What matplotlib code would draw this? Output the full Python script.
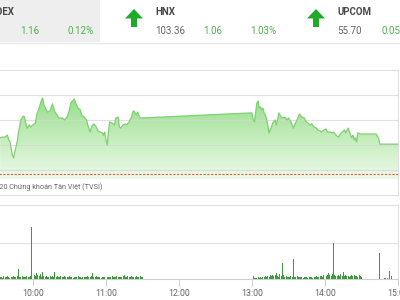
import numpy as np
import matplotlib
matplotlib.use("Agg")
import matplotlib.pyplot as plt
from matplotlib.patches import Rectangle, Polygon
from matplotlib.colors import LinearSegmentedColormap
from matplotlib.lines import Line2D

plt.rcParams['font.family'] = ['Roboto', 'DejaVu Sans']

# ---------------- data ----------------
ref_price = 102.30

price_times = [
    "09:33", "09:35", "09:37", "09:39", "09:40", "09:41", "09:43", "09:44", "09:45", "09:47",
    "09:48", "09:50", "09:52", "09:53", "09:55", "09:57", "09:58", "10:00", "10:02", "10:03",
    "10:05", "10:07", "10:08", "10:09", "10:11", "10:12", "10:14", "10:16", "10:18", "10:20",
    "10:21", "10:24", "10:26", "10:28", "10:30", "10:31", "10:34", "10:35", "10:37", "10:39",
    "10:40", "10:42", "10:44", "10:45", "10:47", "10:48", "10:50", "10:52", "10:53", "10:55",
    "10:57", "10:58", "10:59", "11:00", "11:01", "11:02", "11:03", "11:05", "11:07", "11:08",
    "11:10", "11:11", "11:12", "11:14", "11:16", "11:17", "11:19", "11:21", "11:22", "11:23",
    "11:25", "11:26", "11:28", "11:30",
    "13:00", "13:01", "13:02", "13:03", "13:04", "13:05", "13:06", "13:07", "13:08", "13:09",
    "13:10", "13:11", "13:12", "13:13", "13:14", "13:16", "13:17", "13:19", "13:20", "13:21",
    "13:22", "13:24", "13:25", "13:27", "13:29", "13:30", "13:32", "13:34", "13:35", "13:37",
    "13:39", "13:41", "13:43", "13:44", "13:46", "13:48", "13:49", "13:51", "13:53", "13:54",
    "13:56", "13:57", "13:59", "14:01", "14:02", "14:04", "14:06", "14:07", "14:09", "14:11",
    "14:12", "14:14", "14:16", "14:17", "14:19", "14:21", "14:22", "14:23", "14:24", "14:25",
    "14:26", "14:27", "14:29", "14:42", "14:44", "14:45", "15:00",
]
price_values = [
    103.58, 103.61, 103.61, 103.68, 103.51, 103.47, 102.97, 102.87, 103.08, 103.44,
    103.76, 104.22, 104.36, 104.32, 103.93, 104.04, 103.97, 104.04, 104.11, 104.39,
    104.64, 104.93, 105.00, 104.75, 104.57, 104.50, 104.54, 104.79, 104.50, 104.39,
    104.29, 104.29, 104.22, 104.32, 104.57, 104.82, 104.96, 104.82, 104.64, 104.57,
    104.39, 104.32, 104.22, 104.04, 103.79, 103.97, 104.08, 103.97, 103.86, 103.79,
    103.76, 103.68, 103.79, 103.51, 103.33, 103.79, 104.15, 104.11, 104.04, 104.29,
    104.32, 103.97, 103.93, 104.04, 104.08, 104.04, 104.15, 104.32, 104.50, 104.54,
    104.39, 104.50, 104.29, 104.29,
    104.47, 104.22, 104.15, 104.50, 104.82, 104.89, 104.64, 104.68, 104.57, 104.64,
    104.47, 104.39, 104.25, 104.04, 103.76, 103.97, 104.11, 104.22, 104.04, 104.22,
    104.47, 104.32, 104.29, 104.32, 104.22, 104.29, 104.15, 103.93, 104.04, 104.22,
    104.43, 104.32, 104.29, 104.18, 104.11, 104.04, 104.08, 103.97, 103.93, 103.86,
    103.83, 103.79, 103.86, 103.90, 103.79, 103.79, 103.76, 103.79, 103.68, 103.61,
    103.68, 103.79, 103.86, 103.76, 103.93, 103.68, 103.58, 103.68, 103.51, 103.58,
    103.44, 103.76, 103.72, 103.72, 103.58, 103.36, 103.36,
]

# volume (thousand shares), one value per minute
morning_vol_start = "09:33"
morning_vol = [
    20, 25, 15, 30, 20, 25, 30, 20, 15, 25,
    20, 30, 25, 20, 30, 100, 25, 20, 30, 25,
    20, 25, 30, 20, 25, 30, 520, 90, 40, 35,
    60, 45, 30, 50, 25, 70, 30, 25, 35, 20,
    25, 30, 20, 35, 25, 70, 20, 30, 25, 20,
    30, 20, 25, 35, 20, 25, 20, 30, 25, 20,
    15, 20, 25, 20, 30, 20, 25, 15, 20, 25,
    20, 25, 30, 20, 25, 30, 60, 20, 25, 30,
    20, 25, 20, 15, 20, 25, 20, 30, 25, 20,
    25, 20, 30, 20, 25, 20, 30, 25, 20, 25,
    20, 30, 40, 25, 20, 30, 25, 20, 30, 25,
    20, 25, 30, 25, 20, 30, 25, 20,
]
afternoon_vol_start = "13:00"
afternoon_vol = [
    15, 30, 15, 10, 15, 20, 15, 25, 15, 20,
    25, 30, 20, 35, 25, 40, 30, 45, 35, 40,
    60, 30, 25, 50, 35, 160, 40, 25, 30, 20,
    25, 20, 30, 25, 200, 25, 20, 30, 25, 20,
    20, 25, 15, 20, 25, 20, 15, 20, 25, 20,
    15, 20, 25, 30, 20, 25, 35, 30, 25, 40,
    30, 35, 45, 60, 40, 35, 50, 360, 45, 30,
    35, 40, 30, 50, 35, 70, 30, 40, 35, 30,
    25, 35, 40, 30, 45, 30, 35, 25, 40, 35,
    20,
]
late_vol_times = ["14:45", "14:49", "14:50", "14:51", "14:53", "14:55"]
late_vol = [260, 10, 15, 10, 80, 30]

tick_labels = ["10:00", "11:00", "12:00", "13:00", "14:00", "15:00"]

header_hnx = ["HNX", "103.36", "1.06", "1.03%"]
header_upcom = ["UPCOM", "55.70", "0.05"]
header_vn = ["VNINDEX", "1.16", "0.12%"]
footer_text = "© 2020 Chứng khoán Tân Việt (TVSI)"


def to_min(s):
    h, m = s.split(":")
    return (int(h) - 9) * 60 + int(m)


# ---------------- figure ----------------
W, H = 400, 300
fig = plt.figure(figsize=(4, 3), dpi=100)
fig.patch.set_facecolor("white")


def fx(x):
    return x / W


def fy(y):
    return 1 - y / H


GREEN_TXT = "#4cb34c"
ARROW = "#1faa2a"

# header
fig.patches.append(Rectangle((0, fy(42)), fx(100), 42 / H, transform=fig.transFigure,
                             facecolor="#eeeeee", edgecolor="none", zorder=0))
fig.add_artist(Line2D([0, 1], [fy(42.5), fy(42.5)], transform=fig.transFigure,
                      color="#e9e9e9", lw=1))


def arrow(cx):
    pts = [(cx, 9), (cx + 9, 18.5), (cx + 3, 18.5), (cx + 3, 27),
           (cx - 3, 27), (cx - 3, 18.5), (cx - 9, 18.5)]
    fig.patches.append(Polygon([(fx(a), fy(b)) for a, b in pts], closed=True,
                               transform=fig.transFigure, facecolor=ARROW,
                               edgecolor="none"))


arrow(134)
arrow(316)

fs = 7
fig.text(fx(15), fy(12), header_vn[0], ha="right", va="center", fontsize=fs,
         fontweight="bold", color="#4a4a4a")
fig.text(fx(20), fy(30.5), header_vn[1], ha="left", va="center", fontsize=fs, color=GREEN_TXT)
fig.text(fx(67), fy(30.5), header_vn[2], ha="left", va="center", fontsize=fs, color=GREEN_TXT)

fig.text(fx(155), fy(12), header_hnx[0], ha="left", va="center", fontsize=fs,
         fontweight="bold", color="#4a4a4a")
fig.text(fx(155), fy(30.5), header_hnx[1], ha="left", va="center", fontsize=fs, color="#666666")
fig.text(fx(203), fy(30.5), header_hnx[2], ha="left", va="center", fontsize=fs, color=GREEN_TXT)
fig.text(fx(250), fy(30.5), header_hnx[3], ha="left", va="center", fontsize=fs, color=GREEN_TXT)

fig.text(fx(337), fy(12), header_upcom[0], ha="left", va="center", fontsize=fs,
         fontweight="bold", color="#4a4a4a")
fig.text(fx(337), fy(30.5), header_upcom[1], ha="left", va="center", fontsize=fs, color="#666666")
fig.text(fx(382), fy(30.5), header_upcom[2], ha="left", va="center", fontsize=fs, color=GREEN_TXT)

# ---------------- main price chart ----------------
t = np.array([to_min(s) for s in price_times], dtype=float)
v = np.array(price_values)

ax = fig.add_axes([fx(-40), fy(195), 438 / W, 125 / H])
ylo, yhi = 101.5545, 105.992
fill_bottom = 102.12

poly = ax.fill_between(t, v, fill_bottom, facecolor="none", edgecolor="none")
cmap = LinearSegmentedColormap.from_list("g", ["#edf9ea", "#c4edbc", "#96de8a"])
grad = np.linspace(0, 1, 256).reshape(-1, 1)
im = ax.imshow(grad, cmap=cmap, origin="lower", aspect="auto",
               extent=[0, 360, fill_bottom, 105.0], zorder=1)
im.set_clip_path(poly.get_paths()[0], transform=ax.transData)
ax.set_xlim(0, 360)
ax.set_ylim(ylo, yhi)

for g in [102.442, 103.3295, 104.217, 105.1045]:
    ax.axhline(g, color="#d6d6d6", lw=0.8, alpha=0.75, zorder=2)

ax.plot(t, v, color="#7fd072", lw=0.9, zorder=3)
ax.axhline(ref_price, color="#e0603a", lw=0.8, ls=(0, (2, 1.4)), zorder=3)

ax.set_xticks([])
ax.set_yticks([])
ax.spines["left"].set_visible(False)
for sp in ["top", "right", "bottom"]:
    ax.spines[sp].set_color("#e0e0e0")
    ax.spines[sp].set_linewidth(0.8)

fig.text(fx(102), fy(187.5), footer_text, ha="right", va="center", fontsize=5.2,
         color="#666666")

# ---------------- volume chart ----------------
m0 = to_min(morning_vol_start)
a0 = to_min(afternoon_vol_start)
vt = ([m0 + i for i in range(len(morning_vol))]
      + [a0 + i for i in range(len(afternoon_vol))]
      + [to_min(s) for s in late_vol_times])
vv = morning_vol + afternoon_vol + late_vol

vx = fig.add_axes([fx(-40), fy(279), 438 / W, 74 / H])
vx.bar(vt, vv, width=0.8, color="#3c9c3c", linewidth=0, zorder=3)
vx.set_xlim(0, 360)
vx.set_ylim(0, 740)
vx.set_yticks([360])
vx.grid(axis="y", color="#e3e3e3", lw=0.8)
vx.tick_params(axis="y", length=0, labelleft=False)
vx.set_xticks([to_min(s) for s in tick_labels])
vx.set_xticklabels(tick_labels)
vx.tick_params(axis="x", length=5, width=0.8, color="#d0d0d0", labelsize=6.3,
               labelcolor="#666666", pad=2)
vx.spines["left"].set_visible(False)
for sp in ["top", "right"]:
    vx.spines[sp].set_color("#e0e0e0")
    vx.spines[sp].set_linewidth(0.8)
vx.spines["bottom"].set_color("#d0d0d0")
vx.spines["bottom"].set_linewidth(0.8)

fig.savefig("out.png", dpi=100)
